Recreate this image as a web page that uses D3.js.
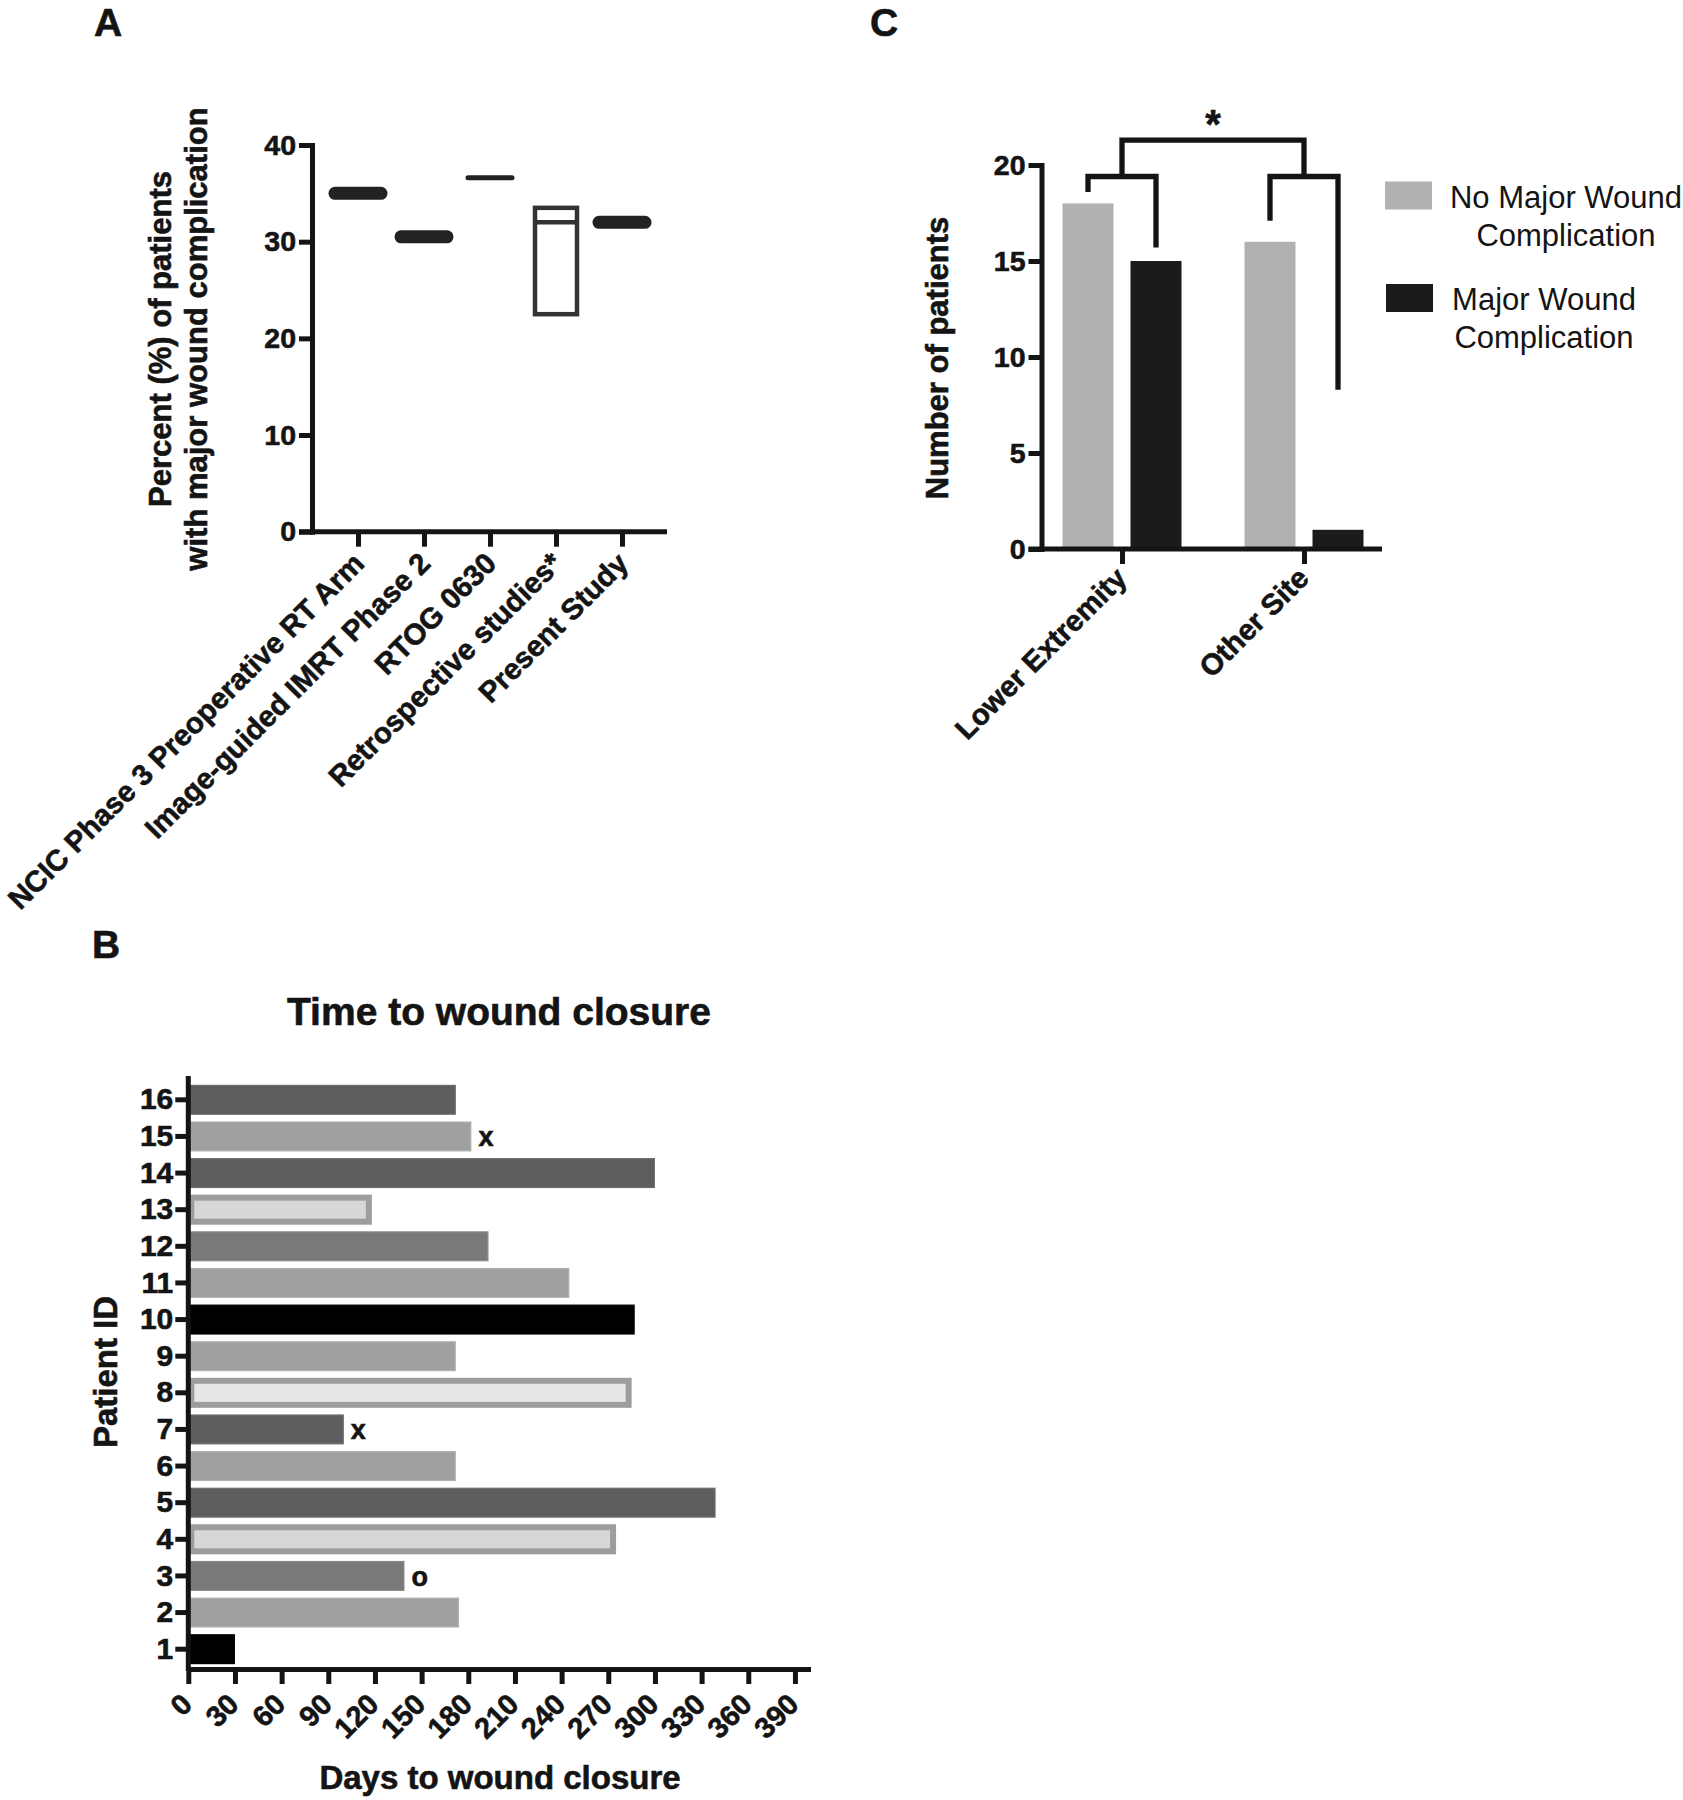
<!DOCTYPE html>
<html><head><meta charset="utf-8">
<script src="https://cdn.jsdelivr.net/npm/d3@7"></script>
<style>
body{margin:0;background:#fff;}
svg{display:block;font-family:"Liberation Sans",Arial,Helvetica,sans-serif;}
.b{stroke:#141414;stroke-width:0.6px;}
</style></head><body>
<svg id="chart" width="1683" height="1800"></svg>
<script>
// ---------- Panel A data ----------
const studyNames = ["NCIC Phase 3 Preoperative RT Arm", "Image-guided IMRT Phase 2", "RTOG 0630", "Retrospective studies*", "Present Study"];
const studyLow  = [35, 30.5, 36.6, 22.5, 32];
const studyHigh = [35, 30.5, 36.6, 33.5, 32];
const studyMid  = [35, 30.5, 36.6, 32, 32];
const percentTicks = [0, 10, 20, 30, 40];
const percentLabelLines = ["Percent (%) of patients", "with major wound complication"];

// ---------- Panel B data ----------
const patientIds = [1, 2, 3, 4, 5, 6, 7, 8, 9, 10, 11, 12, 13, 14, 15, 16];
const daysToClosure = [30, 174, 139, 275, 339, 172, 100, 285, 172, 287, 245, 193, 118, 300, 182, 172];
const patientShade = ["black", "light", "medium", "pale", "dark", "light", "dark", "pale2", "light", "black", "light", "medium", "pale", "dark", "light", "dark"];
const patientMarks = ["", "", "o", "", "", "", "x", "", "", "", "", "", "", "", "x", ""];
const dayTicks = [0, 30, 60, 90, 120, 150, 180, 210, 240, 270, 300, 330, 360, 390];

// ---------- Panel C data ----------
const siteCategories = ["Lower Extremity", "Other Site"];
const complicationGroups = ["No Major Wound Complication", "Major Wound Complication"];
const noMajorCounts = [18, 16];
const majorCounts = [15, 1];
const countTicks = [0, 5, 10, 15, 20];
const bracketLegEnds = [[18.6, 15.7], [17.1, 8.3]];
const bracketInnerLevel = 19.4;
const bracketOuterLevel = 21.3;
const legendLines = [["No Major Wound", "Complication"], ["Major Wound", "Complication"]];

// ---------- styles ----------
const INK = "#141414";
const BOLD = "700";
const shadeStyle = {
  dark:   {fill: "#5d5d5d", stroke: "#6c6c6c", sw: 1.2},
  light:  {fill: "#a0a0a0", stroke: "#b0b0b0", sw: 1.2},
  medium: {fill: "#797979", stroke: "#888888", sw: 1.2},
  black:  {fill: "#000000", stroke: "#000000", sw: 1.2},
  pale:   {fill: "#d7d7d7", stroke: "#9d9d9d", sw: 6},
  pale2:  {fill: "#e7e7e7", stroke: "#9d9d9d", sw: 6}
};
const groupColors = ["#b1b1b1", "#1b1b1b"];

const svg = d3.select("#chart");
svg.append("rect").attr("width", 1683).attr("height", 1800).attr("fill", "#fff");

function styleAxis(g, fs) {
  g.selectAll(".domain").attr("stroke", INK).attr("stroke-width", 5).attr("stroke-linecap", "square");
  g.selectAll(".tick line").attr("stroke", INK).attr("stroke-width", 5);
  g.selectAll(".tick text").attr("fill", INK).attr("font-size", fs).attr("font-weight", BOLD)
    .attr("class", "b").attr("font-family", "'Liberation Sans', Arial, sans-serif");
}
function rotateTickLabels(g, fs, dx, dy) {
  g.selectAll(".tick text")
    .attr("y", null).attr("x", null).attr("dy", null)
    .attr("text-anchor", "end")
    .attr("transform", `translate(${dx},${dy}) rotate(-45)`)
    .attr("font-size", fs);
}

// panel letters
[["A", 94, 36], ["C", 870, 36], ["B", 92, 958]].forEach(([t, x, y]) => {
  svg.append("text").attr("x", x).attr("y", y).text(t).attr("class", "b")
    .attr("font-size", 39).attr("font-weight", BOLD).attr("fill", INK);
});

// =============== PANEL A ===============
const A = svg.append("g");
const yA = d3.scaleLinear().domain([0, 40]).range([531.7, 145]);
const xA = d3.scalePoint().domain(studyNames).range([358, 622]);
const aAxisX = 312;

const thick = {w: 13, half: 23};
const markStyle = [thick, thick, {w: 5, half: 22}, null, thick];
studyNames.forEach((s, i) => {
  const cx = xA(s);
  if (studyLow[i] === studyHigh[i]) {
    const st = markStyle[i];
    A.append("line")
      .attr("x1", cx - st.half).attr("x2", cx + st.half)
      .attr("y1", yA(studyMid[i])).attr("y2", yA(studyMid[i]))
      .attr("stroke", "#222").attr("stroke-width", st.w).attr("stroke-linecap", "round");
  } else {
    const bw = 42;
    A.append("rect")
      .attr("x", cx - bw / 2).attr("width", bw)
      .attr("y", yA(studyHigh[i])).attr("height", yA(studyLow[i]) - yA(studyHigh[i]))
      .attr("fill", "none").attr("stroke", "#333").attr("stroke-width", 4.5);
    A.append("line")
      .attr("x1", cx - bw / 2).attr("x2", cx + bw / 2)
      .attr("y1", yA(studyMid[i])).attr("y2", yA(studyMid[i]))
      .attr("stroke", "#333").attr("stroke-width", 4.5);
  }
});

const gAy = A.append("g").attr("transform", `translate(${aAxisX},0)`)
  .call(d3.axisLeft(yA).tickValues(percentTicks).tickSize(13).tickSizeOuter(0).tickPadding(3));
styleAxis(gAy, 28.5);

const gAx = A.append("g").attr("transform", `translate(0,${yA(0)})`)
  .call(d3.axisBottom(xA).tickSize(15).tickSizeOuter(0));
gAx.select(".domain").remove();
gAx.append("line").attr("x1", aAxisX - 13).attr("x2", 667).attr("y1", 0).attr("y2", 0)
  .attr("stroke", INK).attr("stroke-width", 5);
styleAxis(gAx, 29.3);
rotateTickLabels(gAx, 29.3, 7.5, 33.5);

const aLabel = A.append("text").attr("transform", "translate(0,339) rotate(-90)").attr("class", "b")
  .attr("text-anchor", "middle").attr("font-size", 31).attr("font-weight", BOLD).attr("fill", INK);
percentLabelLines.forEach((l, i) => {
  aLabel.append("tspan").attr("x", 0).attr("y", 171 + i * 36).text(l);
});

// =============== PANEL B ===============
const B = svg.append("g");
const xB = d3.scaleLinear().domain([0, 400]).range([188.3, 810.5]);
const yB = d3.scaleBand().domain(patientIds.slice().reverse()).range([1081.5, 1667.5])
  .paddingInner(0.18).paddingOuter(0.09);
const bAxisY = 1669;

B.append("text").attr("x", 499).attr("y", 1025).attr("text-anchor", "middle").attr("class", "b")
  .attr("font-size", 39).attr("font-weight", BOLD).attr("fill", INK).text("Time to wound closure");

patientIds.forEach((id, i) => {
  const st = shadeStyle[patientShade[i]];
  const x0 = xB(0), x1 = xB(daysToClosure[i]);
  B.append("rect")
    .attr("x", x0 + st.sw / 2).attr("width", x1 - x0 - st.sw)
    .attr("y", yB(id) + st.sw / 2).attr("height", yB.bandwidth() - st.sw)
    .attr("fill", st.fill).attr("stroke", st.stroke).attr("stroke-width", st.sw);
  if (patientMarks[i]) {
    B.append("text").attr("x", x1 + 7).attr("y", yB(id) + yB.bandwidth() / 2).attr("class", "b")
      .attr("dy", "0.36em").attr("font-size", 27).attr("font-weight", BOLD).attr("fill", INK)
      .text(patientMarks[i]);
  }
});

const gBy = B.append("g").attr("transform", `translate(${xB(0)},0)`)
  .call(d3.axisLeft(yB).tickSize(13).tickSizeOuter(0).tickPadding(2));
gBy.select(".domain").remove();
gBy.append("line").attr("x1", 0).attr("x2", 0).attr("y1", 1076).attr("y2", bAxisY + 2)
  .attr("stroke", INK).attr("stroke-width", 5);
styleAxis(gBy, 30);

const gBx = B.append("g").attr("transform", `translate(0,${bAxisY})`)
  .call(d3.axisBottom(xB).tickValues(dayTicks).tickSize(15).tickSizeOuter(0));
styleAxis(gBx, 29);
rotateTickLabels(gBx, 29, 5, 37);
gBx.select(".domain").attr("stroke-linecap", "butt");

B.append("text").attr("x", 500).attr("y", 1789).attr("text-anchor", "middle").attr("class", "b")
  .attr("font-size", 33).attr("font-weight", BOLD).attr("fill", INK).text("Days to wound closure");
B.append("text").attr("transform", "translate(117,1372) rotate(-90)").attr("text-anchor", "middle")
  .attr("class", "b").attr("font-size", 33).attr("font-weight", BOLD).attr("fill", INK).text("Patient ID");

// =============== PANEL C ===============
const C = svg.append("g");
const yC = d3.scaleLinear().domain([0, 20]).range([549, 165]);
const xC = d3.scalePoint().domain(siteCategories).range([1122, 1304]);
const xSub = d3.scaleBand().domain(complicationGroups).range([-59.5, 59.5]).paddingInner(0.25);
const cAxisX = 1041.5;
const countsByGroup = [noMajorCounts, majorCounts];

siteCategories.forEach((cat, ci) => {
  complicationGroups.forEach((grp, gi) => {
    const v = countsByGroup[gi][ci];
    C.append("rect")
      .attr("x", xC(cat) + xSub(grp)).attr("width", xSub.bandwidth())
      .attr("y", yC(v)).attr("height", yC(0) - yC(v))
      .attr("fill", groupColors[gi]);
  });
});

// brackets
const legX = (ci, gi) => xC(siteCategories[ci]) + xSub(complicationGroups[gi]) + xSub.bandwidth() / 2;
const mids = [];
siteCategories.forEach((cat, ci) => {
  const xl = legX(ci, 0), xr = legX(ci, 1);
  mids.push((xl + xr) / 2);
  C.append("path")
    .attr("d", `M${xl},${yC(bracketLegEnds[ci][0])}V${yC(bracketInnerLevel)}H${xr}V${yC(bracketLegEnds[ci][1])}`)
    .attr("fill", "none").attr("stroke", INK).attr("stroke-width", 5.3).attr("stroke-linejoin", "miter");
});
C.append("path")
  .attr("d", `M${mids[0]},${yC(bracketInnerLevel)}V${yC(bracketOuterLevel)}H${mids[1]}V${yC(bracketInnerLevel)}`)
  .attr("fill", "none").attr("stroke", INK).attr("stroke-width", 5.3).attr("stroke-linejoin", "miter");
C.append("text").attr("x", (mids[0] + mids[1]) / 2).attr("y", yC(bracketOuterLevel) - 2).attr("class", "b")
  .attr("text-anchor", "middle").attr("font-size", 40).attr("font-weight", BOLD).attr("fill", INK).text("*");

const gCy = C.append("g").attr("transform", `translate(${cAxisX},0)`)
  .call(d3.axisLeft(yC).tickValues(countTicks).tickSize(13).tickSizeOuter(0).tickPadding(3));
styleAxis(gCy, 28.5);

const gCx = C.append("g").attr("transform", `translate(0,${yC(0)})`)
  .call(d3.axisBottom(xC).tickSize(15).tickSizeOuter(0));
gCx.select(".domain").remove();
gCx.append("line").attr("x1", cAxisX - 13).attr("x2", 1382).attr("y1", 0).attr("y2", 0)
  .attr("stroke", INK).attr("stroke-width", 5);
styleAxis(gCx, 29.3);
rotateTickLabels(gCx, 29.3, 6, 31);

C.append("text").attr("transform", "translate(948,358) rotate(-90)").attr("text-anchor", "middle")
  .attr("class", "b").attr("font-size", 31).attr("font-weight", BOLD).attr("fill", INK).text("Number of patients");

// legend
const legendRows = [{sq: [1385, 181.5], cx: 1566, y0: 208}, {sq: [1386, 284], cx: 1544, y0: 310}];
complicationGroups.forEach((grp, gi) => {
  const r = legendRows[gi];
  C.append("rect").attr("x", r.sq[0]).attr("y", r.sq[1]).attr("width", 47).attr("height", 28)
    .attr("fill", groupColors[gi]);
  legendLines[gi].forEach((line, li) => {
    C.append("text").attr("x", r.cx).attr("y", r.y0 + li * 38).attr("text-anchor", "middle")
      .attr("font-size", 31).attr("fill", INK).text(line);
  });
});
</script>
</body></html>
